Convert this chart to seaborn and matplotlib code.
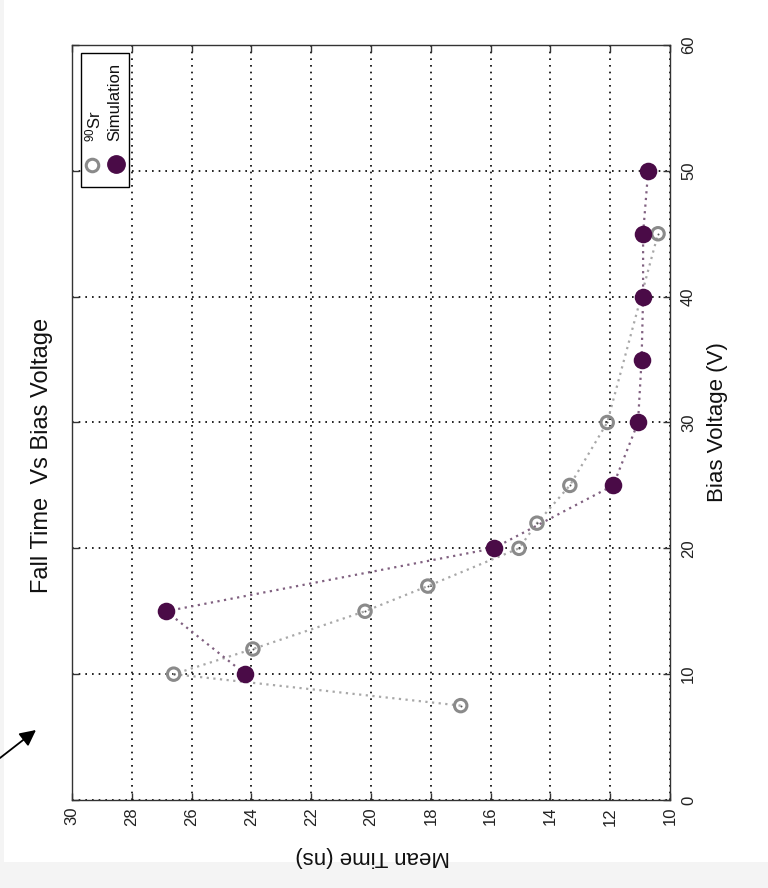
import matplotlib
matplotlib.use("Agg")
import matplotlib.pyplot as plt
import seaborn as sns
import pandas as pd
from matplotlib.patches import Rectangle
from matplotlib.lines import Line2D

# ---- data ----
bias_sr = [7.5, 10, 12, 15, 17, 20, 22, 25, 30, 45]
time_sr = [17.0, 26.6, 23.95, 20.2, 18.1, 15.05, 14.45, 13.35, 12.1, 10.4]
bias_sim = [10, 15, 20, 25, 30, 35, 40, 45, 50]
time_sim = [24.2, 26.85, 15.9, 11.9, 11.07, 10.95, 10.9, 10.9, 10.73]
time_ticks = list(range(10, 31, 2))
bias_ticks = list(range(0, 61, 10))
title = "Fall Time  Vs Bias Voltage"
xlabel = "Bias Voltage (V)"
ylabel = "Mean Time (ns)"
legend_labels = [r"$^{90}$Sr", "Simulation"]

df_sr = pd.DataFrame({"time": time_sr, "bias": bias_sr})
df_sim = pd.DataFrame({"time": time_sim, "bias": bias_sim})

sns.set_style("white")
plt.rcParams["font.family"] = ["Liberation Sans", "DejaVu Sans"]
plt.rcParams["mathtext.fontset"] = "custom"
plt.rcParams["mathtext.rm"] = "Liberation Sans"
plt.rcParams["mathtext.it"] = "Liberation Sans"

W, H = 768, 888
fig = plt.figure(figsize=(W / 100, H / 100), dpi=100)
fig.patch.set_facecolor("white")

def fx(px):
    return px / W

def fy(py):
    return 1 - py / H

# light gray frame of the picture
fig.add_artist(Rectangle((0, 0), fx(4), 1, transform=fig.transFigure,
                         facecolor="#f4f4f4", edgecolor="none", zorder=0))
fig.add_artist(Rectangle((0, 0), 1, fy(862), transform=fig.transFigure,
                         facecolor="#f4f4f4", edgecolor="none", zorder=0))

ax = fig.add_axes([fx(72), fy(800), fx(670) - fx(72), fy(45) - fy(800)])
ax.set_facecolor("white")

gray = "#8a8a8a"
purple = "#4a0b47"

sns.lineplot(data=df_sr, x="time", y="bias", sort=False, estimator=None,
             color="#a8a8a8", linestyle=(0, (1, 2)), linewidth=1.6, ax=ax, zorder=3)
sns.lineplot(data=df_sim, x="time", y="bias", sort=False, estimator=None,
             color="#806080", linestyle=(0, (1, 2)), linewidth=1.6, ax=ax, zorder=3)
sns.scatterplot(data=df_sr, x="time", y="bias", facecolors="none", edgecolor=gray,
                linewidth=2.2, s=80, ax=ax, zorder=4)
sns.scatterplot(data=df_sr, x="time", y="bias", color="#555555", linewidth=0,
                s=2, ax=ax, zorder=5)
sns.scatterplot(data=df_sim, x="time", y="bias", color=purple, linewidth=0,
                s=160, ax=ax, zorder=6)

ax.set_xlim(30, 10)
ax.set_ylim(0, 60)
ax.set_xticks(time_ticks)
ax.set_yticks(bias_ticks)
ax.set_xlabel("")
ax.set_ylabel("")
ax.grid(True, color="black", linestyle=(0, (1, 3)), linewidth=1.2)
for s in ax.spines.values():
    s.set_color("#333333")
    s.set_linewidth(1.0)
ax.tick_params(axis="both", direction="in", length=5, width=1, color="#333333",
               top=True, right=True, left=True, bottom=True,
               labelleft=False, labelright=True, labelbottom=True, labeltop=False,
               labelsize=12, labelcolor="#222222")
ax.tick_params(axis="x", pad=5)
ax.tick_params(axis="y", pad=8)
for lab in ax.get_xticklabels():
    lab.set_rotation(90)
    lab.set_ha("center")
    lab.set_va("top")
    lab.set_fontsize(12)
for lab in ax.get_yticklabels():
    lab.set_rotation(90)
    lab.set_va("center")
    lab.set_ha("left")
    lab.set_fontsize(12)

fig.text(fx(42), fy(455), title, rotation=90, ha="center", va="center",
         fontsize=17, color="#111111")
fig.text(fx(718), fy(422), xlabel, rotation=90, ha="center", va="center",
         fontsize=16, color="#111111")
fig.text(fx(373), fy(856), ylabel, rotation=180, ha="center", va="center",
         fontsize=16, color="#111111")

# legend (rotated with the figure)
fig.add_artist(Rectangle((fx(81), fy(187)), fx(129) - fx(81), fy(53) - fy(187),
                         transform=fig.transFigure, facecolor="white",
                         edgecolor="black", linewidth=1.0, zorder=7))
fig.add_artist(Line2D([fx(92)], [fy(165)], marker="o", markersize=9,
                      markerfacecolor="none", markeredgecolor=gray,
                      markeredgewidth=2.2, linestyle="none",
                      transform=fig.transFigure, zorder=8))
fig.add_artist(Line2D([fx(116)], [fy(164)], marker="o", markersize=12.5,
                      markerfacecolor=purple, markeredgecolor=purple,
                      linestyle="none", transform=fig.transFigure, zorder=8))
fig.text(fx(93), fy(142), legend_labels[0], rotation=90, ha="center", va="bottom",
         fontsize=12, color="#111111", zorder=9)
fig.text(fx(115), fy(141), legend_labels[1], rotation=90, ha="center", va="bottom",
         fontsize=12, color="#111111", zorder=9)

# arrow in the lower left
ax.annotate("", xy=(fx(36), fy(730)), xytext=(fx(0), fy(758)),
            xycoords="figure fraction", textcoords="figure fraction",
            arrowprops=dict(arrowstyle="-|>", color="black", lw=1.3,
                            mutation_scale=24, shrinkA=0, shrinkB=0),
            annotation_clip=False)

fig.savefig("out.png", dpi=100, facecolor=fig.get_facecolor())
